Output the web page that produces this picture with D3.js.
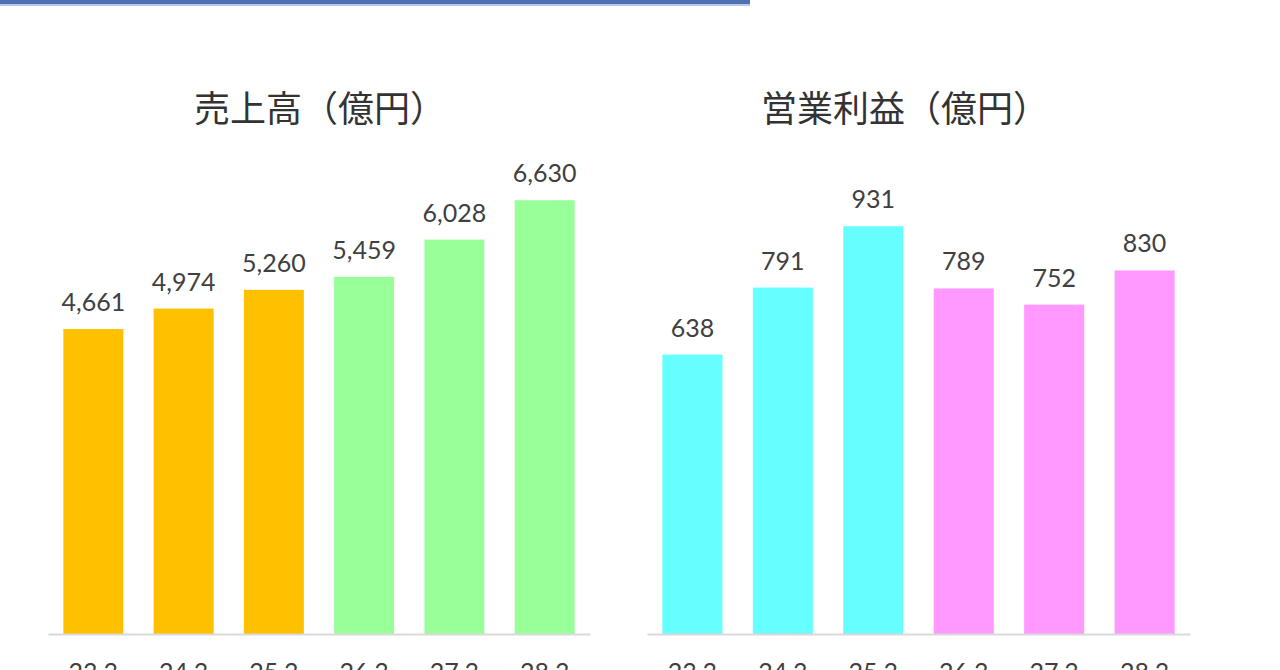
<!DOCTYPE html>
<html><head><meta charset="utf-8">
<script src="https://cdn.jsdelivr.net/npm/d3@7"></script>
<style>html,body{margin:0;padding:0;background:#fff;overflow:hidden}</style>
</head><body>
<svg id="c" width="1280" height="670"></svg>
<script>
const categories = ["23.3", "24.3", "25.3", "26.3", "27.3", "28.3"];
const salesValues = [4661, 4974, 5260, 5459, 6028, 6630];
const profitValues = [638, 791, 931, 789, 752, 830];
const salesColors = ["#FFC000", "#FFC000", "#FFC000", "#99FF99", "#99FF99", "#99FF99"];
const profitColors = ["#66FFFF", "#66FFFF", "#66FFFF", "#FF99FF", "#FF99FF", "#FF99FF"];
const titles = ["売上高（億円）", "営業利益（億円）"];

const svg = d3.select("#c");
// header band
svg.append("rect").attr("x", 0).attr("y", 0).attr("width", 750).attr("height", 4).attr("fill", "#5070b4");
svg.append("rect").attr("x", 0).attr("y", 4).attr("width", 750).attr("height", 2).attr("fill", "#b9c9ea");

const baseline = 634;
const panels = [
  {values: salesValues, colors: salesColors, title: titles[0], x0: 48, x1: 590, ymax: 7000, ytop: 176, titleX: 320},
  {values: profitValues, colors: profitColors, title: titles[1], x0: 647, x1: 1190, ymax: 1000, ytop: 196, titleX: 905}
];
const fmt = d3.format(",");
const numFont = "Lato, 'Open Sans', sans-serif";

panels.forEach(p => {
  const g = svg.append("g");
  const x = d3.scaleBand().domain(categories).range([p.x0, p.x1]).paddingInner(0.336).paddingOuter(0.17);
  const y = d3.scaleLinear().domain([0, p.ymax]).range([baseline, p.ytop]);

  g.append("text").attr("x", p.titleX).attr("y", 122).attr("text-anchor", "middle")
    .attr("font-family", "'Noto Sans CJK JP', sans-serif").attr("font-size", 36)
    .attr("fill", "#333").text(p.title);

  g.selectAll("rect.bar").data(p.values).join("rect").attr("class", "bar")
    .attr("x", (d, i) => x(categories[i])).attr("width", x.bandwidth())
    .attr("y", d => y(d)).attr("height", d => baseline - y(d))
    .attr("fill", (d, i) => p.colors[i]);

  g.selectAll("text.val").data(p.values).join("text").attr("class", "val")
    .attr("x", (d, i) => x(categories[i]) + x.bandwidth() / 2)
    .attr("y", d => y(d) - 18).attr("text-anchor", "middle")
    .attr("font-family", numFont).attr("font-size", 25).attr("fill", "#404040")
    .text(d => fmt(d));

  const axis = d3.axisBottom(x).tickSize(0).tickPadding(29);
  const ag = g.append("g").attr("transform", `translate(0,${baseline})`).call(axis);
  ag.select(".domain").attr("stroke", "#d9d9d9").attr("stroke-width", 2);
  ag.selectAll(".tick text").attr("font-family", numFont).attr("font-size", 25).attr("fill", "#404040");
});
</script>
</body></html>
